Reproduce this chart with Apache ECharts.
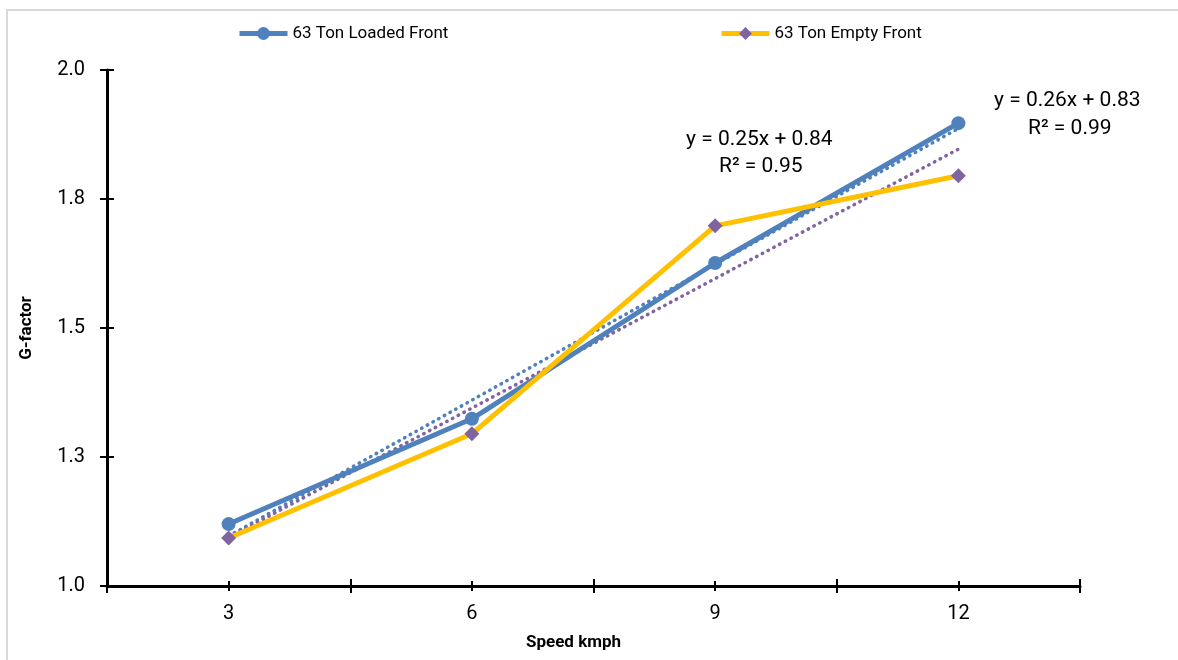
<!DOCTYPE html>
<html>
<head>
<meta charset="utf-8">
<script src="https://cdn.jsdelivr.net/npm/echarts@6/dist/echarts.min.js"></script>
<style>html,body{margin:0;padding:0;background:#fff}#c{width:1178px;height:660px}</style>
</head>
<body>
<div id="c"></div>
<script>
const categories = ['3', '6', '9', '12'];
const loadedFront = [1.12, 1.324, 1.626, 1.897];
const emptyFront = [1.093, 1.295, 1.698, 1.795];
const loadedLabel = ['y = 0.26x + 0.83', 'R² = 0.99'];
const emptyLabel = ['y = 0.25x + 0.84', 'R² = 0.95'];

function linearTrend(vals) {
  const n = vals.length;
  const xs = vals.map((_, i) => i + 1);
  const mx = xs.reduce((a, b) => a + b, 0) / n;
  const my = vals.reduce((a, b) => a + b, 0) / n;
  let sxy = 0, sxx = 0;
  for (let i = 0; i < n; i++) { sxy += (xs[i] - mx) * (vals[i] - my); sxx += (xs[i] - mx) ** 2; }
  const b = sxy / sxx, a = my - b * mx;
  return xs.map(x => a + b * x);
}

const BLUE = '#4f81bd', YEL = '#ffc000', PUR = '#8064a2';
const tickFont = 'Roboto';

const chart = echarts.init(document.getElementById('c'));
const baseX = {
  type: 'category', data: categories, position: 'bottom', boundaryGap: true,
  axisLine: { show: false }, axisLabel: { show: false }, splitLine: { show: false }
};
chart.setOption({
  animation: false,
  grid: { left: 107, right: 98, top: 70, bottom: 74 },
  graphic: [
    { type: 'rect', shape: { x: 7, y: 10, width: 1300, height: 800 }, style: { fill: 'none', stroke: '#d9d9d9', lineWidth: 2 } },
    { type: 'text', left: 686, top: 129, style: { text: emptyLabel[0], font: '21px Roboto', fill: '#000' } },
    { type: 'text', left: 719, top: 156, style: { text: emptyLabel[1], font: '21px Roboto', fill: '#000' } },
    { type: 'text', left: 994, top: 90, style: { text: loadedLabel[0], font: '21px Roboto', fill: '#000' } },
    { type: 'text', left: 1028, top: 118, style: { text: loadedLabel[1], font: '21px Roboto', fill: '#000' } }
  ],
  legend: [
    { data: ['63 Ton Loaded Front'], left: 232, top: 20, itemWidth: 48, itemHeight: 16, itemGap: 4,
      lineStyle: { width: 5 },
      textStyle: { fontFamily: 'Roboto', fontSize: 17, color: '#000' } },
    { data: ['63 Ton Empty Front'], left: 714, top: 20, itemWidth: 48, itemHeight: 16, itemGap: 4,
      lineStyle: { width: 5 },
      textStyle: { fontFamily: 'Roboto', fontSize: 17, color: '#000' } }
  ],
  xAxis: [
    Object.assign({}, baseX, {
      axisLine: { show: true, lineStyle: { color: '#000', width: 3 } },
      axisTick: { show: true, inside: false, length: 7, lineStyle: { color: '#000', width: 2 } },
      axisLabel: { show: true, margin: 18, fontFamily: tickFont, fontSize: 20, color: '#000' },
      name: 'Speed kmph', nameLocation: 'middle', nameGap: 48,
      nameTextStyle: { fontFamily: 'Roboto', fontWeight: 'bold', fontSize: 17, color: '#000', padding: [0, 40, 0, 0] }
    }),
    Object.assign({}, baseX, { axisTick: { show: true, inside: true, length: 7, lineStyle: { color: '#000', width: 2 } } }),
    Object.assign({}, baseX, { axisTick: { show: true, alignWithLabel: true, inside: false, length: 5, lineStyle: { color: '#000', width: 2 } } }),
    Object.assign({}, baseX, { axisTick: { show: true, alignWithLabel: true, inside: true, length: 5, lineStyle: { color: '#000', width: 2 } } })
  ],
  yAxis: [
    {
      type: 'value', min: 1, max: 2, interval: 0.25,
      axisLine: { show: true, lineStyle: { color: '#000', width: 3 } },
      axisTick: { show: true, inside: false, length: 7, lineStyle: { color: '#000', width: 2 } },
      axisLabel: { margin: 22, fontFamily: tickFont, fontSize: 20, color: '#000', formatter: v => v.toFixed(1) },
      splitLine: { show: false },
      name: 'G-factor', nameLocation: 'middle', nameGap: 72,
      nameTextStyle: { fontFamily: 'Roboto', fontWeight: 'bold', fontSize: 17, color: '#000' }
    },
    {
      type: 'value', min: 1, max: 2, interval: 0.25, position: 'left',
      axisLine: { show: false }, axisLabel: { show: false }, splitLine: { show: false },
      axisTick: { show: true, inside: true, length: 7, lineStyle: { color: '#000', width: 2 } }
    }
  ],
  series: [
    { name: '63 Ton Loaded Front trend', type: 'line', data: linearTrend(loadedFront), symbol: 'none', z: 3,
      lineStyle: { color: BLUE, width: 3.5, type: [0.5, 6], cap: 'round' } },
    { name: '63 Ton Empty Front trend', type: 'line', data: linearTrend(emptyFront), symbol: 'none', z: 3,
      lineStyle: { color: PUR, width: 3.5, type: [0.5, 6], cap: 'round' } },
    { name: '63 Ton Loaded Front', type: 'line', data: loadedFront, symbol: 'circle', symbolSize: 14, z: 4,
      lineStyle: { color: BLUE, width: 5 }, itemStyle: { color: BLUE } },
    { name: '63 Ton Empty Front', type: 'line', data: emptyFront, symbol: 'diamond', symbolSize: 15, z: 4,
      lineStyle: { color: YEL, width: 5 }, itemStyle: { color: PUR } }
  ]
});
</script>
</body>
</html>
